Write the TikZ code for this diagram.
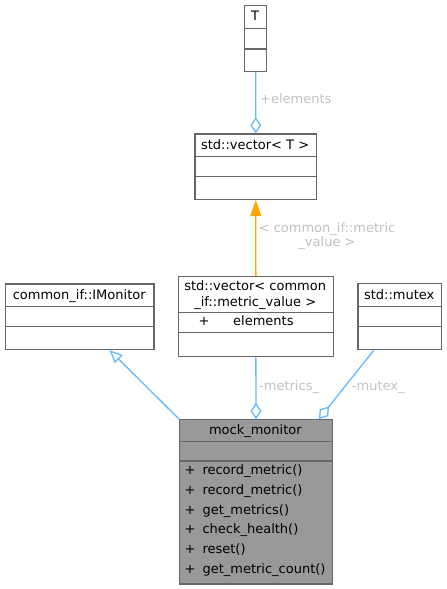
\documentclass[tikz,border=0pt]{standalone}
\usepackage{fontspec}
\setmainfont{DejaVu Sans}
\usetikzlibrary{arrows.meta,calc}
\definecolor{boxgray}{HTML}{666666}
\definecolor{fillgray}{HTML}{999999}
\definecolor{edgeblue}{HTML}{63B8FF}
\definecolor{edgeorange}{HTML}{FFA500}
\definecolor{labelgray}{HTML}{C0C0C0}
\tikzset{
  every node/.style={font=\fontsize{13}{14.5}\selectfont, inner sep=0pt, text height=9.5pt, text depth=2.5pt},
  umlbox/.style={draw=boxgray, line width=1.3pt, anchor=north west, minimum width=#1, text height=, text depth=},
  divider/.style={draw=boxgray, line width=1.3pt},
  elabel/.style={text=labelgray, anchor=west},
  assoc/.style={draw=edgeblue, line width=1.3pt, -{Diamond[open, length=16pt, width=11pt]}},
  inherit/.style={draw=edgeblue, line width=1.3pt, -{Triangle[open, length=13pt, width=11pt]}},
  tmpl/.style={draw=edgeorange, line width=1.3pt, -{Triangle[length=16pt, width=11pt]}},
}
\begin{document}
\begin{tikzpicture}[x=1pt,y=-1pt]
\useasboundingbox (0,0) rectangle (447,589);
% boxes
\node[umlbox=22pt, minimum height=65.7pt] (T) at (244,5) {};
\node[umlbox=121.7pt, minimum height=65.4pt] (vecT) at (194.3,133.3) {};
\node[umlbox=148.3pt, minimum height=65.4pt] (imon) at (5,283.3) {};
\node[umlbox=155pt, minimum height=80.3pt] (vecM) at (177.7,275.7) {};
\node[umlbox=83.7pt, minimum height=66pt] (mutex) at (357.3,282.7) {};
\node[umlbox=152.7pt, minimum height=164.3pt, fill=fillgray] (mock) at (179,419) {};
% dividers
\foreach \b/\a/\c in {T/23.7/44, vecT/23.4/43.4, imon/23.4/43.4, vecM/37/57, mutex/24/44, mock/22.7/42}{
  \draw[divider] ($(\b.north west)+(0,\a)$) -- ($(\b.north east)+(0,\a)$);
  \draw[divider] ($(\b.north west)+(0,\c)$) -- ($(\b.north east)+(0,\c)$);
}
% titles
\node (Tt) at (255,17.3) {T};
\node (vecTt) at (255.15,145.7) {std::vector< T >};
\node (imont) at (79.2,295.7) {common\_if::IMonitor};
\node (vecMt1) at (255.2,287) {std::vector< common};
\node (vecMt2) at (255.2,302.5) {\_if::metric\_value >};
\node (vecMp) at (204,322.3) {+};
\node[anchor=west] (vecMe) at (233,322.3) {elements};
\node (mutext) at (399.2,295.7) {std::mutex};
\node (mockt) at (255.35,430.7) {mock\_monitor};
\foreach \i/\m in {0/record\_metric(), 1/record\_metric(), 2/get\_metrics(), 3/check\_health(), 4/reset(), 5/get\_metric\_count()}{
  \node (mp\i) at (190,{471+19.8*\i}) {+};
  \node[anchor=west] (mm\i) at (202.3,{471+19.8*\i}) {\m};
}
% connectors
\draw[assoc] (T.south) -- (vecT.north);
\node[elabel] (lelem) at (260,100) {+elements};
\draw[tmpl] (vecM.north) -- (vecT.south);
\node[text=labelgray, align=center, text height=, text depth=] (ltmpl) at (327,236.2) {< common\_if::metric\\\_value >};
\coordinate (imonb) at ($(imon.south west)+(104.5,0)$);
\coordinate (mockl) at ($(mock.north west)+(0.5,0.5)$);
\draw[inherit] (mockl) -- (imonb);
\draw[assoc] (vecM.south) -- (mock.north);
\node[elabel] (lmetrics) at (259,386.7) {-metrics\_};
\coordinate (mutexb) at ($(mutex.south west)+(16.7,0)$);
\coordinate (mockr) at ($(mock.north west)+(140,0)$);
\draw[assoc] (mutexb) -- (mockr);
\node[elabel] (lmutex) at (351.7,386.7) {-mutex\_};
\end{tikzpicture}
\end{document}
